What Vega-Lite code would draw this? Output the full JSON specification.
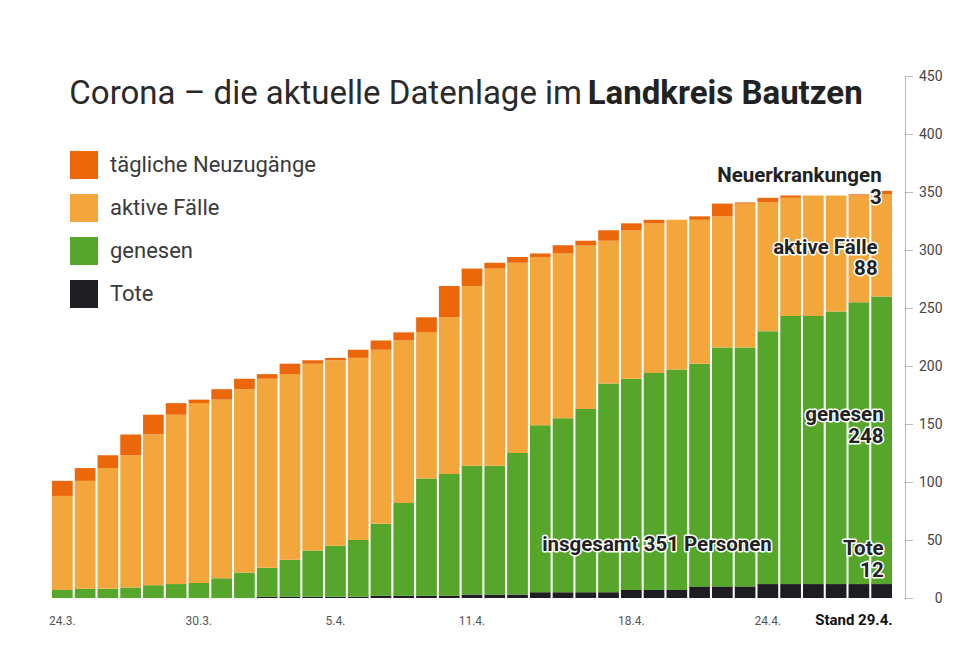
{
  "$schema": "https://vega.github.io/schema/vega-lite/v6.json",
  "width": 840,
  "height": 522,
  "autosize": {"type": "none"},
  "padding": {"left": 52, "top": 76, "right": 65, "bottom": 66},
  "background": "white",
  "config": {"view": {"stroke": null}, "font": "Roboto"},
  "data": {"values": [
    {"date": "24.3.", "neu": 13, "aktiv": 81, "genesen": 7, "tote": 0},
    {"date": "25.3.", "neu": 11, "aktiv": 93, "genesen": 8, "tote": 0},
    {"date": "26.3.", "neu": 11, "aktiv": 104, "genesen": 8, "tote": 0},
    {"date": "27.3.", "neu": 18, "aktiv": 114, "genesen": 9, "tote": 0},
    {"date": "28.3.", "neu": 17, "aktiv": 130, "genesen": 11, "tote": 0},
    {"date": "29.3.", "neu": 10, "aktiv": 146, "genesen": 12, "tote": 0},
    {"date": "30.3.", "neu": 3, "aktiv": 155, "genesen": 13, "tote": 0},
    {"date": "31.3.", "neu": 9, "aktiv": 154, "genesen": 17, "tote": 0},
    {"date": "1.4.", "neu": 9, "aktiv": 158, "genesen": 22, "tote": 0},
    {"date": "2.4.", "neu": 4, "aktiv": 163, "genesen": 25, "tote": 1},
    {"date": "3.4.", "neu": 9, "aktiv": 160, "genesen": 32, "tote": 1},
    {"date": "4.4.", "neu": 3, "aktiv": 161, "genesen": 40, "tote": 1},
    {"date": "5.4.", "neu": 2, "aktiv": 160, "genesen": 44, "tote": 1},
    {"date": "6.4.", "neu": 7, "aktiv": 157, "genesen": 49, "tote": 1},
    {"date": "7.4.", "neu": 8, "aktiv": 150, "genesen": 62, "tote": 2},
    {"date": "8.4.", "neu": 7, "aktiv": 140, "genesen": 80, "tote": 2},
    {"date": "9.4.", "neu": 13, "aktiv": 126, "genesen": 101, "tote": 2},
    {"date": "10.4.", "neu": 27, "aktiv": 135, "genesen": 105, "tote": 2},
    {"date": "11.4.", "neu": 15, "aktiv": 155, "genesen": 111, "tote": 3},
    {"date": "12.4.", "neu": 5, "aktiv": 170, "genesen": 111, "tote": 3},
    {"date": "13.4.", "neu": 5, "aktiv": 164, "genesen": 122, "tote": 3},
    {"date": "14.4.", "neu": 3, "aktiv": 145, "genesen": 144, "tote": 5},
    {"date": "15.4.", "neu": 7, "aktiv": 142, "genesen": 150, "tote": 5},
    {"date": "16.4.", "neu": 4, "aktiv": 141, "genesen": 158, "tote": 5},
    {"date": "17.4.", "neu": 9, "aktiv": 123, "genesen": 180, "tote": 5},
    {"date": "18.4.", "neu": 6, "aktiv": 128, "genesen": 182, "tote": 7},
    {"date": "19.4.", "neu": 3, "aktiv": 129, "genesen": 187, "tote": 7},
    {"date": "20.4.", "neu": 0, "aktiv": 129, "genesen": 190, "tote": 7},
    {"date": "21.4.", "neu": 3, "aktiv": 124, "genesen": 192, "tote": 10},
    {"date": "22.4.", "neu": 11, "aktiv": 113, "genesen": 206, "tote": 10},
    {"date": "23.4.", "neu": 1, "aktiv": 124, "genesen": 206, "tote": 10},
    {"date": "24.4.", "neu": 4, "aktiv": 111, "genesen": 218, "tote": 12},
    {"date": "25.4.", "neu": 2, "aktiv": 102, "genesen": 231, "tote": 12},
    {"date": "26.4.", "neu": 0, "aktiv": 104, "genesen": 231, "tote": 12},
    {"date": "27.4.", "neu": 0, "aktiv": 100, "genesen": 235, "tote": 12},
    {"date": "28.4.", "neu": 1, "aktiv": 92, "genesen": 243, "tote": 12},
    {"date": "29.4.", "neu": 3, "aktiv": 88, "genesen": 248, "tote": 12}
  ]},
  "encoding": {
    "x": {
      "field": "date", "type": "ordinal", "sort": null,
      "scale": {"paddingInner": 0.09, "paddingOuter": 0},
      "axis": {
        "title": null, "domain": false, "ticks": false, "tickSize": 0, "labelAngle": 0,
        "labelExpr": "indexof(['24.3.','30.3.','5.4.','11.4.','18.4.','24.4.'], datum.value) >= 0 ? datum.value : (datum.value === '29.4.' ? 'Stand 29.4.' : '')",
        "labelFont": "Roboto",
        "labelFontSize": {"condition": {"test": "datum.value === '29.4.'", "value": 15}, "value": 12},
        "labelFontWeight": {"condition": {"test": "datum.value === '29.4.'", "value": "bold"}, "value": "normal"},
        "labelColor": {"condition": {"test": "datum.value === '29.4.'", "value": "#111111"}, "value": "#555555"},
        "labelAlign": {"condition": {"test": "datum.value === '29.4.'", "value": "right"}, "value": "center"},
        "labelOffset": {"condition": {"test": "datum.value === '29.4.'", "value": 11}, "value": 0},
        "labelBaseline": "alphabetic", "labelPadding": 26, "labelOverlap": false, "labelBound": false
      }
    }
  },
  "layer": [
    {
      "transform": [
        {"fold": ["tote", "genesen", "aktiv", "neu"], "as": ["typ", "anzahl"]},
        {"lookup": "typ", "from": {"data": {"values": [
          {"typ": "tote", "rang": 1}, {"typ": "genesen", "rang": 2}, {"typ": "aktiv", "rang": 3}, {"typ": "neu", "rang": 4}
        ]}, "key": "typ", "fields": ["rang"]}}
      ],
      "mark": {"type": "bar"},
      "encoding": {
        "y": {
          "field": "anzahl", "type": "quantitative", "stack": "zero",
          "scale": {"domain": [0, 450], "nice": false},
          "axis": {
            "orient": "right", "offset": 13, "title": null, "grid": false,
            "values": [0, 50, 100, 150, 200, 250, 300, 350, 400, 450],
            "domainColor": "#777777", "domainDash": [1, 1], "domainWidth": 1,
            "tickColor": "#777777", "tickDash": [1, 1], "tickSize": 7, "tickWidth": 1,
            "labelAlign": "right", "labelPadding": 30, "labelBaseline": "middle",
            "labelFontSize": 14, "labelColor": "#444444",
            "labelFont": "Roboto"
          }
        },
        "order": {"field": "rang", "type": "quantitative", "sort": "ascending"},
        "color": {
          "field": "typ", "type": "nominal",
          "scale": {"domain": ["neu", "aktiv", "genesen", "tote"], "range": ["#EB6709", "#F3A63C", "#55A62B", "#1E1E22"]},
          "legend": {
            "title": null, "orient": "none", "legendX": 18, "legendY": 75, "padding": 0,
            "symbolType": "square", "symbolSize": 784, "symbolStrokeWidth": 0, "symbolOpacity": 1,
            "labelFontSize": 22, "labelColor": "#3a3a3a", "labelOffset": 12, "rowPadding": 15, "labelLimit": 400,
            "labelExpr": "{'neu': 'tägliche Neuzugänge', 'aktiv': 'aktive Fälle', 'genesen': 'genesen', 'tote': 'Tote'}[datum.value]"
          }
        }
      }
    },
    {
      "transform": [{"filter": "datum.date === '24.3.'"}],
      "mark": {"type": "text", "text": "Corona – die aktuelle Datenlage im", "align": "left", "baseline": "alphabetic", "dx": 7, "fontSize": 33, "fontWeight": "normal", "color": "#2a2a2a"},
      "encoding": {"y": {"datum": 426}}
    },
    {
      "transform": [{"filter": "datum.date === '29.4.'"}],
      "mark": {"type": "text", "text": "Landkreis Bautzen", "align": "right", "baseline": "alphabetic", "dx": -19, "fontSize": 33, "fontWeight": "bold", "color": "#222222"},
      "encoding": {"y": {"datum": 426}}
    },
    {
      "transform": [{"filter": "datum.date === '29.4.'"}],
      "mark": {"type": "text", "text": ["Neuerkrankungen", "3"], "align": "right", "baseline": "alphabetic", "dx": 0, "fontSize": 20.5, "fontWeight": "bold", "lineHeight": 21.5, "stroke": "white", "strokeWidth": 3, "strokeJoin": "round", "color": "white"},
      "encoding": {"y": {"datum": 358.6}}
    },
    {
      "transform": [{"filter": "datum.date === '29.4.'"}],
      "mark": {"type": "text", "text": ["Neuerkrankungen", "3"], "align": "right", "baseline": "alphabetic", "dx": 0, "fontSize": 20.5, "fontWeight": "bold", "lineHeight": 21.5, "color": "#222222"},
      "encoding": {"y": {"datum": 358.6}}
    },
    {
      "transform": [{"filter": "datum.date === '29.4.'"}],
      "mark": {"type": "text", "text": ["aktive Fälle", "88"], "align": "right", "baseline": "alphabetic", "dx": -4, "fontSize": 20.5, "fontWeight": "bold", "lineHeight": 21.5, "stroke": "white", "strokeWidth": 3, "strokeJoin": "round", "color": "white"},
      "encoding": {"y": {"datum": 296.9}}
    },
    {
      "transform": [{"filter": "datum.date === '29.4.'"}],
      "mark": {"type": "text", "text": ["aktive Fälle", "88"], "align": "right", "baseline": "alphabetic", "dx": -4, "fontSize": 20.5, "fontWeight": "bold", "lineHeight": 21.5, "color": "#222222"},
      "encoding": {"y": {"datum": 296.9}}
    },
    {
      "transform": [{"filter": "datum.date === '29.4.'"}],
      "mark": {"type": "text", "text": ["genesen", "248"], "align": "right", "baseline": "alphabetic", "dx": 2, "fontSize": 20.5, "fontWeight": "bold", "lineHeight": 22, "stroke": "white", "strokeWidth": 3, "strokeJoin": "round", "color": "white"},
      "encoding": {"y": {"datum": 152.6}}
    },
    {
      "transform": [{"filter": "datum.date === '29.4.'"}],
      "mark": {"type": "text", "text": ["genesen", "248"], "align": "right", "baseline": "alphabetic", "dx": 2, "fontSize": 20.5, "fontWeight": "bold", "lineHeight": 22, "color": "#222222"},
      "encoding": {"y": {"datum": 152.6}}
    },
    {
      "transform": [{"filter": "datum.date === '29.4.'"}],
      "mark": {"type": "text", "text": ["Tote", "12"], "align": "right", "baseline": "alphabetic", "dx": 2, "fontSize": 20.5, "fontWeight": "bold", "lineHeight": 21.5, "stroke": "white", "strokeWidth": 3, "strokeJoin": "round", "color": "white"},
      "encoding": {"y": {"datum": 36.8}}
    },
    {
      "transform": [{"filter": "datum.date === '29.4.'"}],
      "mark": {"type": "text", "text": ["Tote", "12"], "align": "right", "baseline": "alphabetic", "dx": 2, "fontSize": 20.5, "fontWeight": "bold", "lineHeight": 21.5, "color": "#222222"},
      "encoding": {"y": {"datum": 36.8}}
    },
    {
      "transform": [{"filter": "datum.date === '24.4.'"}],
      "mark": {"type": "text", "text": "insgesamt 351 Personen", "align": "right", "baseline": "alphabetic", "dx": 4, "fontSize": 20.5, "fontWeight": "bold", "stroke": "white", "strokeWidth": 3, "strokeJoin": "round", "color": "white"},
      "encoding": {"y": {"datum": 40.3}}
    },
    {
      "transform": [{"filter": "datum.date === '24.4.'"}],
      "mark": {"type": "text", "text": "insgesamt 351 Personen", "align": "right", "baseline": "alphabetic", "dx": 4, "fontSize": 20.5, "fontWeight": "bold", "color": "#222222"},
      "encoding": {"y": {"datum": 40.3}}
    }
  ]
}
